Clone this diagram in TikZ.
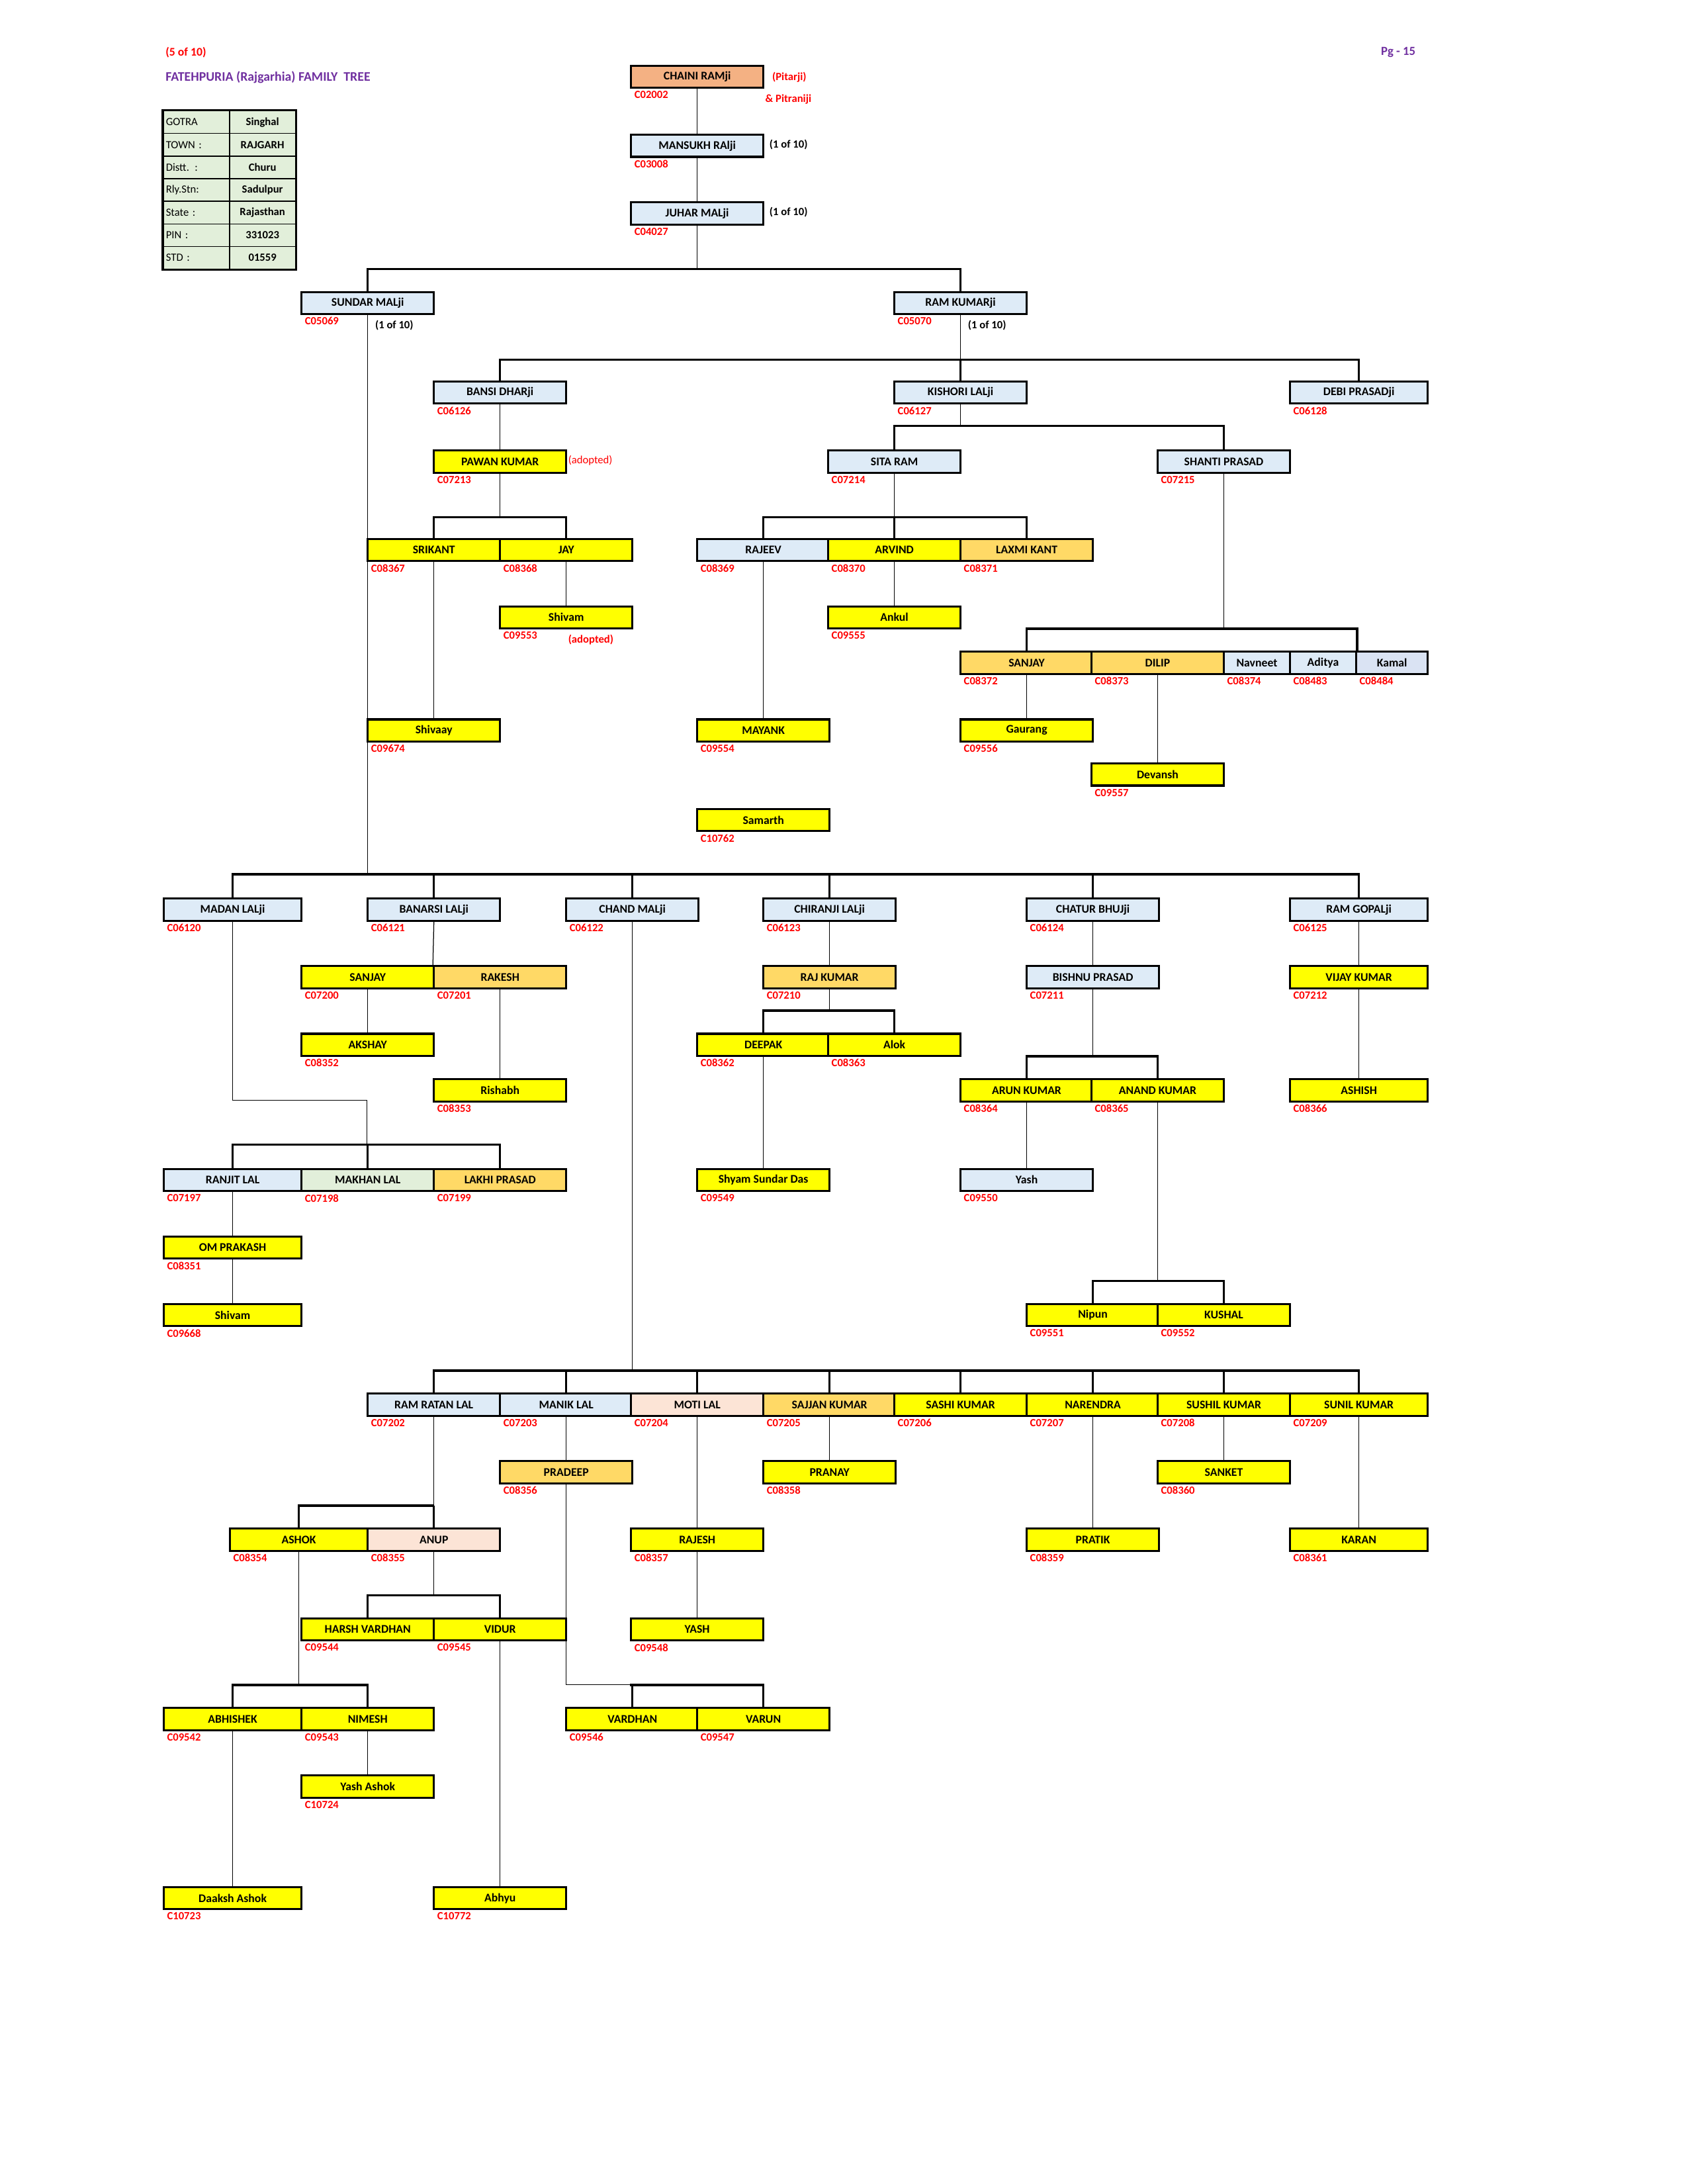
\documentclass[tikz,border=0pt]{standalone}
\usepackage{fontspec}
\setmainfont{Carlito}
\definecolor{lb}{HTML}{DEEBF7}
\definecolor{yl}{HTML}{FFFF00}
\definecolor{gd}{HTML}{FFD966}
\definecolor{sm}{HTML}{F4B183}
\definecolor{pk}{HTML}{FCE4D6}
\definecolor{gr}{HTML}{E2EFDA}
\definecolor{kb}{HTML}{DAE3F3}
\definecolor{rd}{HTML}{FF0000}
\definecolor{pu}{HTML}{7030A0}
\tikzset{
 pbox/.style={draw,line width=1.5pt,minimum height=16pt,inner sep=0pt,anchor=north west,font=\fontsize{8.5}{9}\selectfont\bfseries},
 code/.style={anchor=north west,inner sep=0pt,text=rd,font=\fontsize{8}{9}\selectfont\bfseries},
 note/.style={anchor=west,inner sep=0pt,font=\fontsize{8}{9}\selectfont\bfseries},
 conn/.style={line width=0.6pt},
 busl/.style={line width=1.6pt},
 cell/.style={draw,line width=0.8pt,fill=gr,minimum width=48pt,minimum height=16.4pt,inner sep=2pt,anchor=north west,font=\fontsize{8}{9}\selectfont}
}
\newcommand\pb[7]{\node[pbox,fill=#5,minimum width=#4pt] (#1) at (#2,#3) {#6};
 \node[code] (#1c) at ({#2+3},{#3+19}) {#7};}
\newcommand\bus[3]{\draw[conn] (#1.south) -- (#1.south |- 0,#2);
 \foreach \c in {#3} {\draw[busl] (#1.south |- 0,#2) -| (\c.north);}}
\newcommand\one[2]{\draw[conn] (#1.south) -- (#2.north);}
\begin{document}
\begin{tikzpicture}[x=1pt,y=-1pt]
\useasboundingbox (0,0) rectangle (1224,1584);
% header
\node[anchor=west,inner sep=0,text=rd,font=\fontsize{8.5}{9}\selectfont\bfseries] (h1) at (120,38) {(5 of 10)};
\node[anchor=west,inner sep=0,text=pu,font=\fontsize{9.5}{10}\selectfont\bfseries] (h2) at (120,56) {FATEHPURIA (Rajgarhia) FAMILY~ TREE};
\node[anchor=east,inner sep=0,text=pu,font=\fontsize{9}{10}\selectfont\bfseries] (h3) at (1027,38) {Pg - 15};
% table
\foreach \a/\b [count=\i from 0] in {GOTRA/Singhal,TOWN :/RAJGARH,Distt. :/Churu,Rly.Stn:/Sadulpur,State :/Rajasthan,PIN :/331023,STD :/01559}{
 \node[cell,text width=44pt,align=left] (tl\i) at (118,{80+16.4*\i}) {\a};
 \node[cell,text width=44pt,align=center,font=\fontsize{8}{9}\selectfont\bfseries] (tr\i) at (166,{80+16.4*\i}) {\b};
}
\draw[line width=1.6pt] (tl0.north west) rectangle (tr6.south east);
% gen 1-3
\pb{chaini}{457}{47}{96}{sm}{CHAINI RAMji}{C02002}
\node[note,text=rd] (n1) at (560,56) {(Pitarji)};
\node[note,text=rd] (n2) at (555,72) {\& Pitraniji};
\pb{mansukh}{457}{97}{96}{lb}{MANSUKH RAlji}{C03008}
\node[note] (n3) at (558,105) {(1 of 10)};
\pb{juhar}{457}{146}{96}{lb}{JUHAR MALji}{C04027}
\node[note] (n4) at (558,154) {(1 of 10)};
\one{chaini}{mansukh}\one{mansukh}{juhar}
\pb{sundar}{218}{211}{96}{lb}{SUNDAR MALji}{C05069}
\node[note] (n5) at (272,236) {(1 of 10)};
\pb{ramk}{648}{211}{96}{lb}{RAM KUMARji}{C05070}
\node[note] (n6) at (702,236) {(1 of 10)};
\bus{juhar}{195}{sundar,ramk}
% Ram Kumar branch
\pb{bansi}{314}{276}{96}{lb}{BANSI DHARji}{C06126}
\pb{kishori}{648}{276}{96}{lb}{KISHORI LALji}{C06127}
\pb{debi}{935}{276}{100}{lb}{DEBI PRASADji}{C06128}
\bus{ramk}{261}{bansi,kishori,debi}
\pb{pawan}{314}{326}{96}{yl}{PAWAN KUMAR}{C07213}
\node[note,text=rd,font=\fontsize{8}{9}\selectfont] (n7) at (412,334) {(adopted)};
\one{bansi}{pawan}
\pb{srikant}{266}{390}{96}{yl}{SRIKANT}{C08367}
\pb{jay}{362}{390}{96}{yl}{JAY}{C08368}
\bus{pawan}{375}{srikant,jay}
\pb{shivam1}{362}{439}{96}{yl}{Shivam}{C09553}
\node[note,text=rd] (n8) at (412,464) {(adopted)};
\one{jay}{shivam1}
\pb{shivaay}{266}{521}{96}{yl}{Shivaay}{C09674}
\one{srikant}{shivaay}
\pb{sita}{600}{326}{96}{lb}{SITA RAM}{C07214}
\pb{shanti}{839}{326}{96}{lb}{SHANTI PRASAD}{C07215}
\bus{kishori}{309}{sita,shanti}
\pb{rajeev}{505}{390}{96}{lb}{RAJEEV}{C08369}
\pb{arvind}{600}{390}{96}{yl}{ARVIND}{C08370}
\pb{laxmi}{696}{390}{96}{gd}{LAXMI KANT}{C08371}
\bus{sita}{375}{rajeev,arvind,laxmi}
\pb{ankul}{600}{439}{96}{yl}{Ankul}{C09555}
\one{arvind}{ankul}
\pb{mayank}{505}{521}{96}{yl}{MAYANK}{C09554}
\one{rajeev}{mayank}
\pb{samarth}{505}{586}{96}{yl}{Samarth}{C10762}
\pb{sanjay1}{696}{472}{96}{gd}{SANJAY}{C08372}
\pb{dilip}{791}{472}{96}{gd}{DILIP}{C08373}
\pb{navneet}{887}{472}{48}{lb}{Navneet}{C08374}
\pb{aditya}{935}{472}{48}{lb}{Aditya}{C08483}
\pb{kamal}{983}{472}{52}{kb}{Kamal}{C08484}
\draw[conn] (shanti.south) -- (shanti.south |- 0,456);
\draw[busl] (sanjay1.north) |- (aditya.north east |- 0,456) -- (aditya.north east);
\pb{gaurang}{696}{521}{96}{yl}{Gaurang}{C09556}
\one{sanjay1}{gaurang}
\pb{devansh}{791}{553}{96}{yl}{Devansh}{C09557}
\one{dilip}{devansh}
% Sundar branch
\pb{madan}{118}{651}{100}{lb}{MADAN LALji}{C06120}
\pb{banarsi}{266}{651}{96}{lb}{BANARSI LALji}{C06121}
\pb{chand}{410}{651}{96}{lb}{CHAND MALji}{C06122}
\pb{chiranji}{553}{651}{96}{lb}{CHIRANJI LALji}{C06123}
\pb{chatur}{744}{651}{96}{lb}{CHATUR BHUJji}{C06124}
\pb{ramg}{935}{651}{100}{lb}{RAM GOPALji}{C06125}
\draw[conn] (sundar.south) -- (sundar.south |- 0,634);
\foreach \c in {madan,banarsi,chand,chiranji,chatur,ramg}{\draw[busl] (sundar.south |- 0,634) -| (\c.north);}
\pb{sanjay2}{218}{700}{96}{yl}{SANJAY}{C07200}
\pb{rakesh}{314}{700}{96}{gd}{RAKESH}{C07201}
\draw[conn] (banarsi.south) -- (rakesh.north west);
\pb{akshay}{218}{749}{96}{yl}{AKSHAY}{C08352}
\one{sanjay2}{akshay}
\pb{rishabh}{314}{782}{96}{yl}{Rishabh}{C08353}
\one{rakesh}{rishabh}
\pb{ranjit}{118}{847}{100}{lb}{RANJIT LAL}{C07197}
\pb{makhan}{218}{847}{96}{gr}{MAKHAN LAL}{C07198}
\pb{lakhi}{314}{847}{96}{gd}{LAKHI PRASAD}{C07199}
\coordinate (mb) at (266,830);
\draw[conn] (madan.south) |- (266,798) -- (mb);
\foreach \c in {ranjit,makhan,lakhi}{\draw[busl] (mb) -| (\c.north);}
\pb{om}{118}{896}{100}{yl}{OM PRAKASH}{C08351}
\one{ranjit}{om}
\pb{shivam2}{118}{945}{100}{yl}{Shivam}{C09668}
\one{om}{shivam2}
\pb{raj}{553}{700}{96}{gd}{RAJ KUMAR}{C07210}
\one{chiranji}{raj}
\pb{deepak}{505}{749}{96}{yl}{DEEPAK}{C08362}
\pb{alok}{600}{749}{96}{yl}{Alok}{C08363}
\bus{raj}{733}{deepak,alok}
\pb{shyam}{505}{847}{96}{yl}{Shyam Sundar Das}{C09549}
\one{deepak}{shyam}
\pb{bishnu}{744}{700}{96}{lb}{BISHNU PRASAD}{C07211}
\one{chatur}{bishnu}
\pb{arun}{696}{782}{96}{yl}{ARUN KUMAR}{C08364}
\pb{anand}{791}{782}{96}{yl}{ANAND KUMAR}{C08365}
\bus{bishnu}{766}{arun,anand}
\pb{yash1}{696}{847}{96}{lb}{Yash}{C09550}
\one{arun}{yash1}
\pb{nipun}{744}{945}{96}{yl}{Nipun}{C09551}
\pb{kushal}{839}{945}{96}{yl}{KUSHAL}{C09552}
\bus{anand}{929}{nipun,kushal}
\pb{vijay}{935}{700}{100}{yl}{VIJAY KUMAR}{C07212}
\one{ramg}{vijay}
\pb{ashish}{935}{782}{100}{yl}{ASHISH}{C08366}
\one{vijay}{ashish}
% Chand branch
\pb{ramratan}{266}{1010}{96}{lb}{RAM RATAN LAL}{C07202}
\pb{manik}{362}{1010}{96}{lb}{MANIK LAL}{C07203}
\pb{moti}{457}{1010}{96}{pk}{MOTI LAL}{C07204}
\pb{sajjan}{553}{1010}{96}{gd}{SAJJAN KUMAR}{C07205}
\pb{sashi}{648}{1010}{96}{yl}{SASHI KUMAR}{C07206}
\pb{narendra}{744}{1010}{96}{yl}{NARENDRA}{C07207}
\pb{sushil}{839}{1010}{96}{yl}{SUSHIL KUMAR}{C07208}
\pb{sunil}{935}{1010}{100}{yl}{SUNIL KUMAR}{C07209}
\bus{chand}{994}{ramratan,manik,moti,sajjan,sashi,narendra,sushil,sunil}
\pb{pradeep}{362}{1059}{96}{gd}{PRADEEP}{C08356}
\one{manik}{pradeep}
\pb{pranay}{553}{1059}{96}{yl}{PRANAY}{C08358}
\one{sajjan}{pranay}
\pb{sanket}{839}{1059}{96}{yl}{SANKET}{C08360}
\one{sushil}{sanket}
\pb{rajesh}{457}{1108}{96}{yl}{RAJESH}{C08357}
\one{moti}{rajesh}
\pb{yash2}{457}{1173}{96}{yl}{YASH}{C09548}
\one{rajesh}{yash2}
\pb{pratik}{744}{1108}{96}{yl}{PRATIK}{C08359}
\one{narendra}{pratik}
\pb{karan}{935}{1108}{100}{yl}{KARAN}{C08361}
\one{sunil}{karan}
\pb{ashok}{166}{1108}{100}{yl}{ASHOK}{C08354}
\pb{anup}{266}{1108}{96}{pk}{ANUP}{C08355}
\bus{ramratan}{1092}{ashok,anup}
\pb{harsh}{218}{1173}{96}{yl}{HARSH VARDHAN}{C09544}
\pb{vidur}{314}{1173}{96}{yl}{VIDUR}{C09545}
\bus{anup}{1157}{harsh,vidur}
\pb{abhishek}{118}{1238}{100}{yl}{ABHISHEK}{C09542}
\pb{nimesh}{218}{1238}{96}{yl}{NIMESH}{C09543}
\bus{ashok}{1222}{abhishek,nimesh}
\pb{yasha}{218}{1287}{96}{yl}{Yash Ashok}{C10724}
\one{nimesh}{yasha}
\pb{daaksh}{118}{1368}{100}{yl}{Daaksh Ashok}{C10723}
\one{abhishek}{daaksh}
\pb{abhyu}{314}{1368}{96}{yl}{Abhyu}{C10772}
\one{vidur}{abhyu}
\pb{vardhan}{410}{1238}{96}{yl}{VARDHAN}{C09546}
\pb{varun}{505}{1238}{96}{yl}{VARUN}{C09547}
\coordinate (pb) at (457,1222);
\draw[conn] (pradeep.south) |- (pb);
\foreach \c in {vardhan,varun}{\draw[busl] (pb) -| (\c.north);}
\end{tikzpicture}
\end{document}
